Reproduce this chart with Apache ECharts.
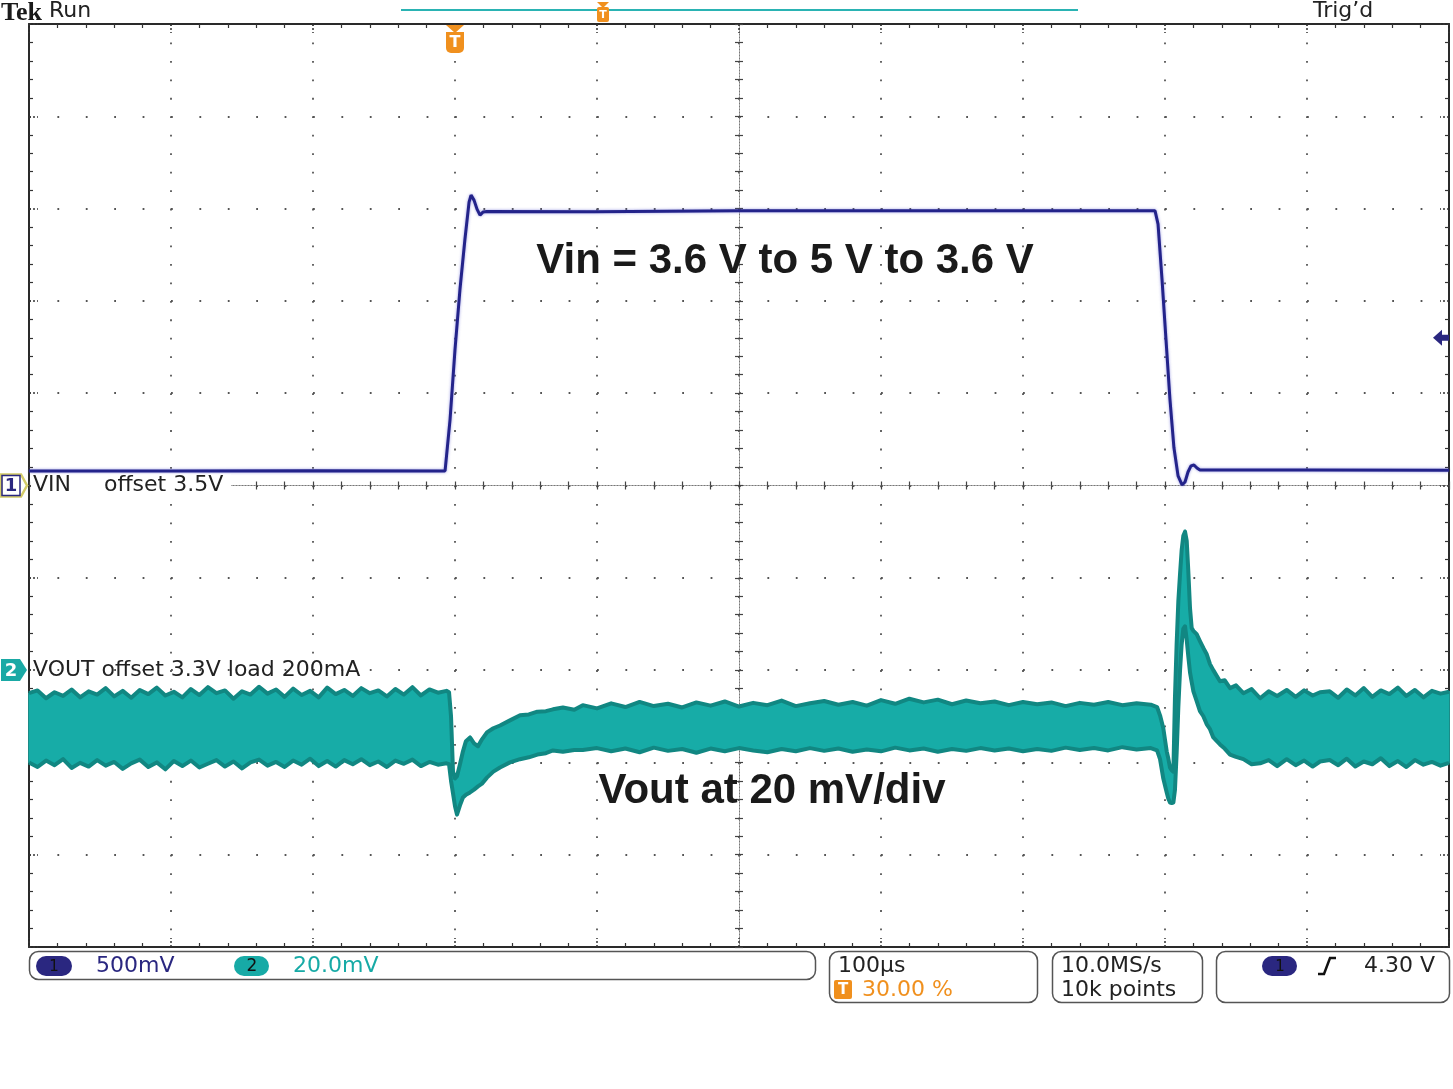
<!DOCTYPE html>
<html><head><meta charset="utf-8">
<script src="https://cdn.jsdelivr.net/npm/echarts@6/dist/echarts.min.js"></script>
<style>html,body{margin:0;padding:0;background:#fff;}#c{width:1453px;height:1089px;}</style>
</head><body><div id="c"></div>
<script>
// ---- Data ----
// Channel 1: VIN (volts), 500 mV/div, offset 3.5 V
const vinTimeUs = [-300, -200, -100, -7, -3.5, 0, 3.5, 7, 9.9, 11.3, 13.4, 15.5, 17.6, 19.7, 22.5, 98, 99, 200, 300, 400, 493, 495.1, 497.9, 500.7, 503.5, 506.3, 509.2, 512, 514.1, 516.2, 518.3, 520.4, 522.5, 524.6, 600, 700];
const vinVolts = [3.579, 3.579, 3.580, 3.579, 3.856, 4.236, 4.563, 4.834, 5.035, 5.073, 5.046, 4.997, 4.965, 4.981, 4.984, 4.983, 4.988, 4.989, 4.989, 4.989, 4.988, 4.916, 4.617, 4.290, 3.965, 3.704, 3.552, 3.503, 3.519, 3.573, 3.606, 3.611, 3.595, 3.584, 3.584, 3.582];

// Channel 2: VOUT ripple envelope (mV relative to 3.3 V offset), 20 mV/div
const voutTimeUs = [
  -300,-294,-288,-282,-276,-270,-264,-258,-252,-246,-240,-234,-228,-222,-216,-210,-204,-198,-192,-186,
  -180,-174,-168,-162,-156,-150,-144,-138,-132,-126,-120,-114,-108,-102,-96,-90,-84,-78,-72,-66,
  -60,-54,-48,-42,-36,-30,-24,-18,-12,-6,
  -4.2,-2.8,-1.4,0,1.4,3.5,5.6,7.7,10.6,13.4,16.2,19,22.5,27,31.7,38.7,45.8,52,58,64,69,76,84,
  90,100,110,120,130,140,150,160,170,180,190,200,210,220,230,240,250,260,270,280,
  290,300,310,320,330,340,350,360,370,380,390,400,410,420,430,440,450,460,470,480,490,
  494.4,496.5,498.8,501.2,502.3,503.5,504.7,505.9,507,508.2,509.4,510.6,511.7,512.9,514.1,515.3,516.4,517.6,518.8,520,
  522.3,524.6,527,529.3,531.7,534,538.7,542,545.8,550,555.2,561,567,573,579,585.7,592,598,604,609.2,
  616,622,628,634,640,646,652,658,664,670,676,682,688,694,700
];
const voutUpperMv = [
  -5.0,-4.4,-6.1,-4.8,-5.6,-4.2,-5.9,-4.6,-5.3,-3.9,-5.7,-4.5,-6.0,-4.3,-5.2,-3.8,-5.5,-4.7,-5.9,-4.1,
  -5.4,-3.7,-5.0,-4.4,-6.2,-4.6,-5.3,-3.6,-5.1,-4.2,-5.8,-4.0,-5.4,-4.5,-5.9,-3.8,-5.2,-4.3,-5.6,-3.9,
  -5.0,-4.4,-5.7,-4.1,-5.3,-3.7,-5.5,-4.2,-4.9,-4.5,
  -4.8,-10.0,-22.0,-23.5,-23.0,-20.4,-17.6,-15.4,-14.6,-15.9,-16.5,-15.0,-13.5,-12.6,-12.0,-10.9,-9.8,-9.6,-9.0,-8.9,-8.5,-8.1,-8.6,
  -7.6,-8.3,-7.2,-8.0,-6.9,-7.8,-7.3,-8.1,-7.0,-7.7,-6.8,-7.9,-7.1,-7.6,-6.6,-7.8,-7.2,-6.7,-7.5,-6.9,
  -7.7,-6.5,-7.3,-6.2,-7.0,-6.4,-7.4,-6.6,-7.2,-6.8,-7.6,-6.9,-7.4,-7.0,-7.8,-7.1,-7.5,-6.9,-7.6,-7.2,-7.5,
  -8.0,-9.8,-12.6,-17.6,-19.1,-21.1,-21.7,-22.0,-6.1,5.7,15.0,20.9,25.9,29.1,30.0,28.0,21.5,13.5,9.1,8.5,
  7.8,6.3,4.8,3.5,1.3,0.0,-2.4,-2.2,-3.9,-3.3,-5.0,-4.1,-6.1,-4.6,-5.6,-4.3,-5.8,-4.4,-5.5,-4.8,
  -4.6,-6.0,-4.2,-5.5,-3.9,-5.8,-4.4,-5.2,-3.8,-5.6,-4.3,-5.9,-4.5,-5.1,-4.7
];
const voutLowerMv = [
  -20.0,-21.0,-19.6,-20.6,-19.3,-21.2,-20.1,-20.9,-19.5,-20.7,-19.9,-21.4,-20.2,-19.4,-21.0,-20.0,-21.5,-19.7,-20.8,-19.6,
  -21.1,-20.3,-19.5,-20.9,-19.8,-21.3,-20.0,-19.4,-20.7,-19.9,-21.0,-19.6,-20.5,-19.2,-20.8,-19.7,-20.9,-19.5,-20.4,-19.3,
  -20.6,-19.8,-21.0,-19.6,-20.3,-19.4,-20.8,-19.9,-20.5,-20.2,
  -20.4,-24.0,-26.7,-29.5,-31.3,-29.3,-27.6,-27.0,-26.5,-25.9,-25.2,-24.6,-23.3,-22.0,-21.1,-20.0,-19.3,-18.9,-18.3,-18.0,-17.4,-17.7,-17.3,
  -17.3,-16.9,-17.6,-17.0,-17.8,-16.8,-17.5,-17.1,-17.9,-17.0,-17.6,-16.9,-17.4,-17.8,-17.1,-17.6,-16.9,-17.5,-17.0,-17.7,
  -17.2,-17.6,-16.8,-17.4,-17.0,-17.7,-17.1,-17.5,-16.9,-17.4,-17.0,-17.6,-17.1,-17.5,-16.8,-17.3,-16.9,-17.4,-16.7,-17.2,-16.9,
  -17.4,-19.3,-23.5,-26.5,-27.8,-28.7,-28.8,-28.7,-26.0,-18.0,-8.0,0.0,5.5,9.0,9.5,6.5,3.0,-0.5,-2.6,-4.6,
  -6.7,-8.9,-10.0,-11.7,-12.8,-14.6,-16.1,-17.0,-18.3,-18.8,-19.3,-20.4,-20.2,-19.5,-20.8,-19.3,-20.6,-19.6,-20.9,-19.8,
  -19.5,-20.6,-19.2,-20.9,-19.8,-20.4,-19.1,-20.8,-19.7,-21.0,-19.5,-20.5,-19.9,-20.7,-20.1
];

// Scope settings
const triggerTimeUs = 0;
const triggerLevelV = 4.30;
const ch1OffsetV = 3.5;
const ch2OffsetMv = 0;
const annotationTexts = ['Vin = 3.6 V to 5 V to 3.6 V', 'Vout at 20 mV/div'];
const channelLabels = ['VIN', 'offset 3.5V', 'VOUT offset 3.3V load 200mA'];
const statusTexts = ['500mV', '20.0mV', '100µs', '30.00 %', '10.0MS/s', '10k points', '4.30 V'];

// ---- Chart ----
const chart = echarts.init(document.getElementById('c'), null, {renderer: 'canvas'});
const GRID = {left: 29, top: 24, width: 1420, height: 923};
const hidden = {show: false};
const borderTick = {show: true, inside: true, length: 9, lineStyle: {color: '#333', width: 1.5, type: [2, 2]}};
const borderMinor = {show: true, splitNumber: 5, length: 4, lineStyle: {color: '#333', width: 1.2}};
const borderLine = {show: true, onZero: false, lineStyle: {color: '#2a2a2a', width: 2}};

function centerAxis(pos, inside, onZeroIdx) {
  return {
    type: 'value', min: -25, max: 25, interval: 1, position: pos,
    axisLine: {show: true, onZero: true, onZeroAxisIndex: onZeroIdx, lineStyle: {color: '#777', width: 1, type: [1, 2]}},
    axisTick: {show: true, inside: inside, length: 4, lineStyle: {color: '#444', width: 1.2}},
    axisLabel: hidden, splitLine: hidden, minorTick: hidden
  };
}

const nV = voutTimeUs.length;
const option = {
  animation: false,
  backgroundColor: '#ffffff',
  grid: Object.assign({containLabel: false, outerBoundsMode: 'none', show: false}, GRID),
  xAxis: [
    {type: 'value', min: -300, max: 700, interval: 100, position: 'bottom',
      axisLine: borderLine, axisTick: borderTick, minorTick: borderMinor, axisLabel: hidden,
      splitLine: {show: true, lineStyle: {color: '#555', width: 1.8, type: [1.8, 16.66]}}},
    {type: 'value', min: -300, max: 700, interval: 100, position: 'top',
      axisLine: borderLine, axisTick: borderTick, minorTick: borderMinor, axisLabel: hidden, splitLine: hidden},
    centerAxis('bottom', true, 3),
    centerAxis('bottom', false, 3)
  ],
  yAxis: [
    {type: 'value', min: 1.0, max: 6.0, interval: 0.5, position: 'left',
      axisLine: borderLine, axisTick: borderTick, minorTick: borderMinor, axisLabel: hidden,
      splitLine: {show: true, lineStyle: {color: '#555', width: 1.8, type: [1.8, 26.6]}}},
    {type: 'value', min: 1.0, max: 6.0, interval: 0.5, position: 'right',
      axisLine: borderLine, axisTick: borderTick, minorTick: borderMinor, axisLabel: hidden, splitLine: hidden},
    {type: 'value', min: -60, max: 140, show: false, axisLine: {onZero: false}},
    centerAxis('left', true, 2),
    centerAxis('left', false, 2)
  ],
  series: [
    {type: 'custom', name: 'VOUT', xAxisIndex: 0, yAxisIndex: 2, z: 3,
      data: voutTimeUs.map((t, i) => [t, voutUpperMv[i], voutLowerMv[i]]),
      encode: {x: 0, y: [1, 2]},
      renderItem: function (params, api) {
        if (params.dataIndex !== 0) return null;
        const up = [], lo = [];
        for (let i = 0; i < nV; i++) {
          up.push(api.coord([voutTimeUs[i], voutUpperMv[i]]));
          lo.push(api.coord([voutTimeUs[i], voutLowerMv[i]]));
        }
        const pts = up.concat(lo.slice().reverse());
        return {type: 'group', children: [
          {type: 'polygon', shape: {points: pts}, style: {fill: '#17aca7', stroke: '#17aca7', lineWidth: 1.5}},
          {type: 'polyline', shape: {points: up}, style: {fill: 'none', stroke: '#118782', lineWidth: 4, lineJoin: 'round'}},
          {type: 'polyline', shape: {points: lo}, style: {fill: 'none', stroke: '#118782', lineWidth: 4, lineJoin: 'round'}}
        ]};
      }},
    {type: 'line', name: 'VIN', xAxisIndex: 0, yAxisIndex: 0, symbol: 'none', z: 4,
      data: vinTimeUs.map((t, i) => [t, vinVolts[i]]),
      lineStyle: {color: '#23238a', width: 3, shadowColor: 'rgba(90,90,210,0.6)', shadowBlur: 3}}
  ]
};
chart.setOption(option);

// ---- Decorations positioned through the chart's own scales ----
const trigX = chart.convertToPixel({xAxisIndex: 0}, triggerTimeUs);
const trigLevelY = chart.convertToPixel({yAxisIndex: 0}, triggerLevelV);
const ch1Y = chart.convertToPixel({yAxisIndex: 0}, ch1OffsetV);
const ch2Y = chart.convertToPixel({yAxisIndex: 2}, ch2OffsetMv);

const g = [];
const Z = 50;
const UI = '"DejaVu Sans"';
function txt(x, y, text, font, fill, align) {
  g.push({type: 'text', z: Z, x: x, y: y, style: {text: text, font: font, fill: fill,
    align: align || 'left', textAlign: align || 'left', verticalAlign: 'middle', textVerticalAlign: 'middle'}});
}
function rect(x, y, w, h, r, fill, stroke, lw) {
  g.push({type: 'rect', z: Z, shape: {x: x, y: y, width: w, height: h, r: r},
    style: {fill: fill || 'none', stroke: stroke || 'none', lineWidth: lw || 1}});
}
function poly(points, fill, stroke, lw) {
  g.push({type: 'polygon', z: Z, shape: {points: points}, style: {fill: fill || 'none', stroke: stroke || 'none', lineWidth: lw || 1}});
}
function pline(points, stroke, lw) {
  g.push({type: 'polyline', z: Z, shape: {points: points}, style: {fill: 'none', stroke: stroke, lineWidth: lw}});
}

// header
txt(1, 13, 'Tek', 'bold 26px "Liberation Serif"', '#1a1a1a');
txt(49, 11, 'Run', '22px ' + UI, '#222');
txt(1313, 11, 'Trig\u2019d', '22px ' + UI, '#222');
pline([[401, 10], [1078, 10]], '#2ab3b3', 2);
poly([[597, 2], [609, 2], [603, 8]], '#f0901e');
rect(597, 7, 12, 15, 2, '#f0901e');
txt(603, 15, 'T', 'bold 11px ' + UI, '#fff', 'center');

// trigger position marker
poly([[trigX - 9, 25], [trigX + 9, 25], [trigX, 33]], '#f0901e');
rect(trigX - 9, 32, 18, 21, [0, 0, 5, 5], '#f0901e');
txt(trigX, 43, 'T', 'bold 16px ' + UI, '#fff', 'center');

// channel 1 marker + label
poly([[1, ch1Y - 11], [21, ch1Y - 11], [27, ch1Y], [21, ch1Y + 11], [1, ch1Y + 11]], '#fff', '#d4cc6a', 2.5);
rect(2, ch1Y - 10, 18, 20, 0, 'none', '#2a2780', 1.5);
txt(11, ch1Y + 1, '1', 'bold 18px ' + UI, '#2a2780', 'center');
rect(31, ch1Y - 11, 200, 21, 0, '#fff');
txt(33, ch1Y, channelLabels[0], '22px ' + UI, '#222');
txt(104, ch1Y, channelLabels[1], '22px ' + UI, '#222');

// channel 2 marker + label
poly([[1, ch2Y - 11], [20, ch2Y - 11], [27, ch2Y], [20, ch2Y + 11], [1, ch2Y + 11]], '#1aa9a5');
txt(11, ch2Y + 1, '2', 'bold 18px ' + UI, '#fff', 'center');
txt(33, ch2Y, channelLabels[2], '22px ' + UI, '#222');

// trigger level arrow
poly([[1433, trigLevelY], [1442, trigLevelY - 8], [1442, trigLevelY - 3], [1449, trigLevelY - 3],
      [1449, trigLevelY + 3], [1442, trigLevelY + 3], [1442, trigLevelY + 8]], '#2a2780');

// annotations
txt(785, 261, annotationTexts[0], 'bold 42px "Liberation Sans"', '#1a1a1a', 'center');
txt(772, 791, annotationTexts[1], 'bold 42px "Liberation Sans"', '#1a1a1a', 'center');

// status bar
rect(29.5, 951.5, 786, 28, 9, 'none', '#555', 1.5);
rect(829.5, 951.5, 208, 51, 9, 'none', '#555', 1.5);
rect(1052.5, 951.5, 150, 51, 9, 'none', '#555', 1.5);
rect(1216.5, 951.5, 233, 51, 9, 'none', '#555', 1.5);
rect(36, 956, 36, 20, 10, '#2a2780');
txt(54, 967, '1', '15px ' + UI, '#111', 'center');
txt(96, 966, statusTexts[0], '22px ' + UI, '#2a2780');
rect(234, 956, 35, 20, 10, '#17aaa6');
txt(252, 967, '2', '17px ' + UI, '#111', 'center');
txt(293, 966, statusTexts[1], '22px ' + UI, '#17aaa6');
txt(838, 966, statusTexts[2], '22px ' + UI, '#222');
rect(834, 980, 18, 19, 2, '#f0901e');
txt(843, 990, 'T', 'bold 15px ' + UI, '#fff', 'center');
txt(862, 990, statusTexts[3], '22px ' + UI, '#f0901e');
txt(1061, 966, statusTexts[4], '22px ' + UI, '#222');
txt(1061, 990, statusTexts[5], '22px ' + UI, '#222');
rect(1262, 956, 35, 20, 10, '#2a2780');
txt(1280, 967, '1', '15px ' + UI, '#111', 'center');
pline([[1318, 974], [1324, 974], [1330, 958], [1336, 958]], '#111', 2.5);
txt(1364, 966, statusTexts[6], '22px ' + UI, '#222');

chart.setOption({graphic: {elements: g}});
</script>
</body></html>
